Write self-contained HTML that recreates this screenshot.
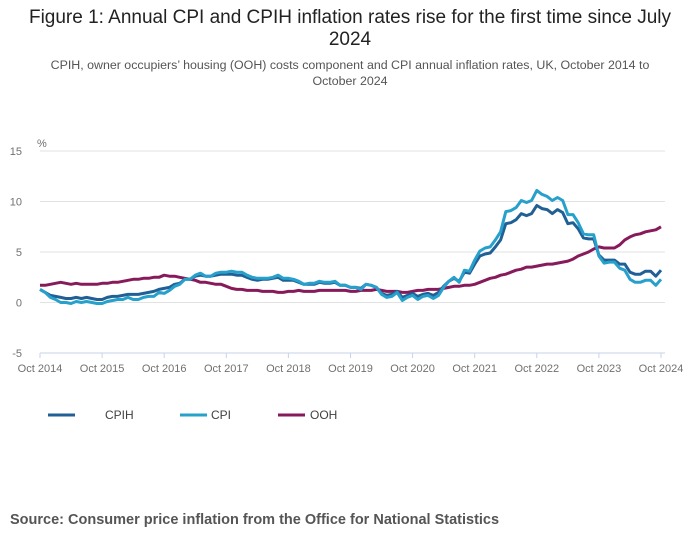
<!DOCTYPE html>
<html><head><meta charset="utf-8"><style>
body{margin:0;background:#fff;width:700px;height:549px;overflow:hidden;font-family:"Liberation Sans",sans-serif}
.t{position:absolute;left:0;width:700px;text-align:center;color:#222;font-size:19px;line-height:22px;top:7px}
.s{position:absolute;left:30px;width:640px;text-align:center;color:#555;font-size:12.4px;line-height:16px;top:57px}
.src{position:absolute;left:10px;top:512px;font-size:14.5px;font-weight:bold;color:#555}
</style></head><body>
<div class="t">Figure 1: Annual CPI and CPIH inflation rates rise for the first time since July<br>2024</div>
<div class="s">CPIH, owner occupiers’ housing (OOH) costs component and CPI annual inflation rates, UK, October 2014 to<br>October 2024</div>
<svg width="700" height="549" style="position:absolute;left:0;top:0" font-family="Liberation Sans, sans-serif">
<g id="g"></g>
</svg>
<div class="src">Source: Consumer price inflation from the Office for National Statistics</div>
<script>
var cpi=[1.3,1.0,0.5,0.3,0.0,0.0,-0.1,0.1,0.0,0.1,0.0,-0.1,-0.1,0.1,0.2,0.3,0.3,0.5,0.3,0.3,0.5,0.6,0.6,1.0,0.9,1.2,1.6,1.8,2.3,2.3,2.7,2.9,2.6,2.6,2.9,3.0,3.0,3.1,3.0,3.0,2.7,2.5,2.4,2.4,2.4,2.5,2.7,2.4,2.4,2.3,2.1,1.8,1.9,1.9,2.1,2.0,2.0,2.1,1.7,1.7,1.5,1.5,1.3,1.8,1.7,1.5,0.8,0.5,0.6,1.0,0.2,0.5,0.7,0.3,0.6,0.7,0.4,0.7,1.5,2.1,2.5,2.0,3.2,3.1,4.2,5.1,5.4,5.5,6.2,7.0,9.0,9.1,9.4,10.1,9.9,10.1,11.1,10.7,10.5,10.1,10.4,10.1,8.7,8.7,7.9,6.8,6.7,6.7,4.6,3.9,4.0,4.0,3.4,3.2,2.3,2.0,2.0,2.2,2.2,1.7,2.3];
var cpih=[1.3,1.0,0.7,0.6,0.5,0.4,0.4,0.5,0.4,0.5,0.4,0.3,0.3,0.5,0.6,0.6,0.7,0.8,0.8,0.8,0.9,1.0,1.1,1.3,1.4,1.5,1.8,1.9,2.3,2.3,2.6,2.7,2.6,2.6,2.7,2.8,2.8,2.8,2.7,2.7,2.5,2.3,2.2,2.3,2.3,2.4,2.5,2.2,2.2,2.2,2.0,1.8,1.8,1.8,2.0,1.9,1.9,2.0,1.7,1.7,1.5,1.5,1.4,1.8,1.7,1.5,0.9,0.7,0.8,1.1,0.5,0.7,0.9,0.6,0.8,0.9,0.7,1.0,1.6,2.1,2.4,2.1,3.0,2.9,3.8,4.6,4.8,4.9,5.5,6.2,7.8,7.9,8.2,8.8,8.6,8.8,9.6,9.3,9.2,8.8,9.2,8.9,7.8,7.9,7.3,6.4,6.3,6.3,4.7,4.2,4.2,4.2,3.8,3.8,3.0,2.8,2.8,3.1,3.1,2.6,3.2];
var ooh=[1.7,1.7,1.8,1.9,2.0,1.9,1.8,1.9,1.8,1.8,1.8,1.8,1.9,1.9,2.0,2.0,2.1,2.2,2.3,2.3,2.4,2.4,2.5,2.5,2.7,2.6,2.6,2.5,2.4,2.3,2.2,2.0,2.0,1.9,1.8,1.8,1.6,1.4,1.3,1.3,1.2,1.2,1.2,1.1,1.1,1.1,1.0,1.0,1.1,1.1,1.2,1.1,1.1,1.1,1.2,1.2,1.2,1.2,1.2,1.2,1.1,1.1,1.2,1.2,1.2,1.3,1.2,1.1,1.1,1.1,1.0,1.0,1.1,1.2,1.2,1.3,1.3,1.3,1.4,1.5,1.6,1.6,1.7,1.7,1.8,2.0,2.2,2.4,2.5,2.7,2.8,3.0,3.2,3.3,3.5,3.5,3.6,3.7,3.8,3.8,3.9,4.0,4.1,4.3,4.6,4.8,5.0,5.3,5.5,5.4,5.4,5.4,5.7,6.2,6.5,6.7,6.8,7.0,7.1,7.2,7.5];
var X0=40,X1=661,Y0=302.5,K=10.1,h='';
function y(v){return Y0-v*K}
[15,10,5,0].forEach(function(v){h+='<line x1="40" x2="665" y1="'+y(v)+'" y2="'+y(v)+'" stroke="#e2e2e3"/>';});
h+='<line x1="40" x2="665" y1="353" y2="353" stroke="#c5d3e8"/>';
[15,10,5,0,-5].forEach(function(v){h+='<text x="22" y="'+(y(v)+4)+'" text-anchor="end" font-size="11" fill="#707071">'+v+'</text>';});
h+='<text x="37" y="147" font-size="11" fill="#707071">%</text>';
for(var i=0;i<=10;i++){var x=X0+(X1-X0)*i/10;h+='<line x1="'+x+'" x2="'+x+'" y1="353" y2="358" stroke="#c5d3e8"/><text x="'+x+'" y="372" text-anchor="middle" font-size="11" fill="#707071">Oct '+(2014+i)+'</text>';}
function pl(d,c){var p=d.map(function(v,i){return (X0+(X1-X0)*i/120).toFixed(1)+','+y(v).toFixed(1)}).join(' ');return '<polyline points="'+p+'" fill="none" stroke="'+c+'" stroke-width="3" stroke-linejoin="round"/>';}
h+=pl(ooh,'#871a5b')+pl(cpih,'#206095')+pl(cpi,'#27a0cc');
var L=[[48,105,'CPIH','#206095'],[180,211,'CPI','#27a0cc'],[278,310,'OOH','#871a5b']];
L.forEach(function(l){h+='<line x1="'+l[0]+'" x2="'+(l[0]+27)+'" y1="415" y2="415" stroke="'+l[3]+'" stroke-width="3"/><text x="'+l[1]+'" y="419" font-size="12" fill="#414042">'+l[2]+'</text>';});
document.getElementById('g').innerHTML=h;
</script>
</body></html>
